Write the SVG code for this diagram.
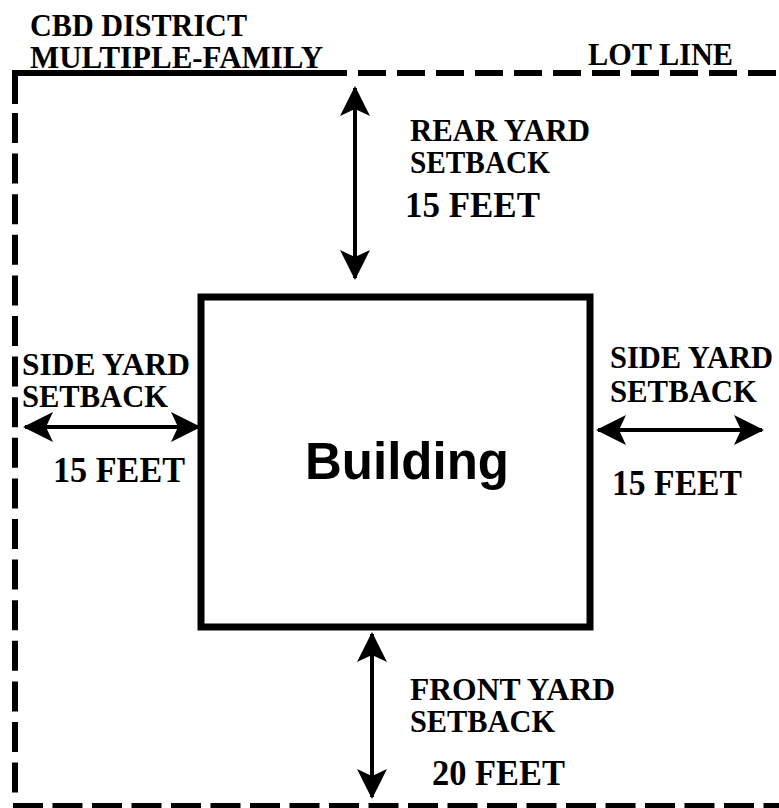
<svg xmlns="http://www.w3.org/2000/svg" width="779" height="808" viewBox="0 0 779 808">
<defs>
<style>
.lot{fill:none;stroke:#000;stroke-width:6}
.lbl{font-family:"Liberation Serif","Times New Roman",serif;font-weight:bold;font-size:32px;fill:#000}
.num{font-family:"Liberation Serif","Times New Roman",serif;font-weight:bold;font-size:36px;fill:#000}
.arr{stroke:#000;stroke-width:4;fill:none}
</style>
<marker id="ah" viewBox="0 0 30 30" refX="28" refY="15" markerWidth="30" markerHeight="30" markerUnits="userSpaceOnUse" orient="auto-start-reverse">
<path d="M0,0 L30,15 L0,30 L7,15 Z" fill="#000"/>
</marker>
</defs>
<rect width="779" height="808" fill="#fff"/>
<g id="lot-line">
<path class="lot" d="M15,104 V73 H347"/>
<line class="lot" x1="358" y1="73" x2="779" y2="73" stroke-dasharray="28 11"/>
<line class="lot" x1="15" y1="113" x2="15" y2="795" stroke-dasharray="30 10.6"/>
<line class="lot" x1="13" y1="806" x2="779" y2="806" stroke-width="7" stroke-dasharray="30 9.5"/>
</g>
<g id="building">
<rect x="201" y="297" width="389" height="330" fill="#fff" stroke="#000" stroke-width="7"/>
<text x="407" y="479" text-anchor="middle" font-family="'Liberation Sans',Arial,sans-serif" font-weight="bold" font-size="51">Building</text>
</g>
<g id="connectors">
<line class="arr" x1="355" y1="88" x2="355" y2="278" marker-start="url(#ah)" marker-end="url(#ah)"/>
<line class="arr" x1="372" y1="634" x2="372" y2="797" marker-start="url(#ah)" marker-end="url(#ah)"/>
<line class="arr" x1="25" y1="427" x2="199" y2="427" marker-start="url(#ah)" marker-end="url(#ah)"/>
<line class="arr" x1="598" y1="430" x2="762" y2="430" marker-start="url(#ah)" marker-end="url(#ah)"/>
</g>
<g id="title">
<text class="lbl" x="30" y="36" textLength="217" lengthAdjust="spacingAndGlyphs">CBD DISTRICT</text>
<text class="lbl" x="30" y="68" textLength="293" lengthAdjust="spacingAndGlyphs">MULTIPLE-FAMILY</text>
</g>
<g id="lot-line-label">
<text class="lbl" x="588" y="65" textLength="145" lengthAdjust="spacingAndGlyphs">LOT LINE</text>
</g>
<g id="rear-yard">
<text class="lbl" x="410" y="141" textLength="180" lengthAdjust="spacingAndGlyphs">REAR YARD</text>
<text class="lbl" x="410" y="173" textLength="140" lengthAdjust="spacingAndGlyphs">SETBACK</text>
<text class="num" x="405" y="217" textLength="135" lengthAdjust="spacingAndGlyphs">15 FEET</text>
</g>
<g id="side-yard-left">
<text class="lbl" x="22" y="375" textLength="168" lengthAdjust="spacingAndGlyphs">SIDE YARD</text>
<text class="lbl" x="22" y="407" textLength="146" lengthAdjust="spacingAndGlyphs">SETBACK</text>
<text class="num" x="53" y="482" textLength="132" lengthAdjust="spacingAndGlyphs">15 FEET</text>
</g>
<g id="side-yard-right">
<text class="lbl" x="610" y="368" textLength="163" lengthAdjust="spacingAndGlyphs">SIDE YARD</text>
<text class="lbl" x="610" y="402" textLength="147" lengthAdjust="spacingAndGlyphs">SETBACK</text>
<text class="num" x="612" y="495" textLength="130" lengthAdjust="spacingAndGlyphs">15 FEET</text>
</g>
<g id="front-yard">
<text class="lbl" x="410" y="700" textLength="205" lengthAdjust="spacingAndGlyphs">FRONT YARD</text>
<text class="lbl" x="410" y="732" textLength="145" lengthAdjust="spacingAndGlyphs">SETBACK</text>
<text class="num" x="432" y="785" textLength="133" lengthAdjust="spacingAndGlyphs">20 FEET</text>
</g>
</svg>
